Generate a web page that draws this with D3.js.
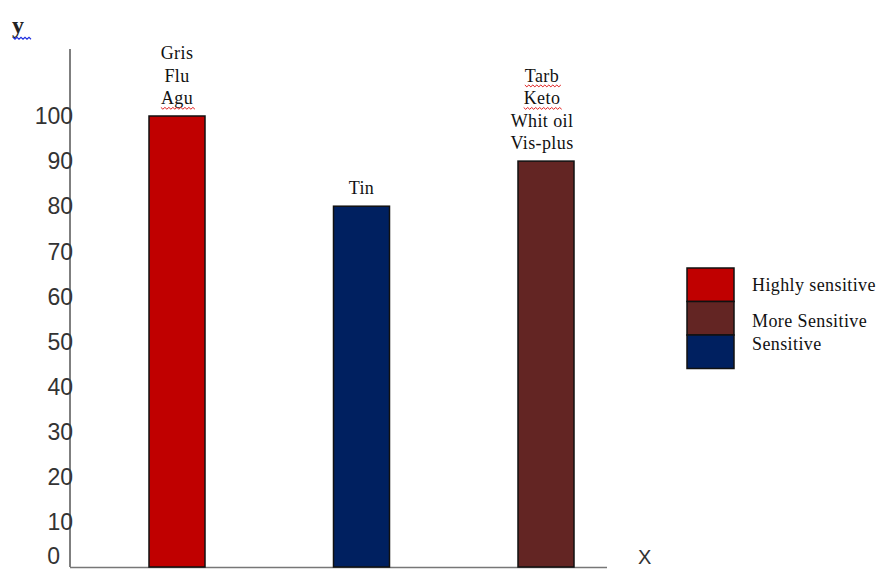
<!DOCTYPE html>
<html>
<head>
<meta charset="utf-8">
<script src="https://cdn.jsdelivr.net/npm/d3@7.9.0/dist/d3.min.js"></script>
<style>
  body { margin: 0; background: #fff; }
  svg { display: block; }
</style>
</head>
<body>
<svg id="chart" width="882" height="569"></svg>
<script>
// data
const categories = ['Highly sensitive', 'Sensitive', 'More Sensitive'];
const values = [100, 80, 90];
const barLabels = [['Gris', 'Flu', 'Agu'], ['Tin'], ['Tarb', 'Keto', 'Whit oil', 'Vis-plus']];
const underlined = ['Agu', 'Tarb', 'Keto']; // spell-check squiggles in the original
const yTicks = [0, 10, 20, 30, 40, 50, 60, 70, 80, 90, 100];
const legendItems = ['Highly sensitive', 'More Sensitive', 'Sensitive'];
const colors = {
  'Highly sensitive': '#c00000',
  'More Sensitive': '#632523',
  'Sensitive': '#002060'
};

const svg = d3.select('#chart');

const axisX = 70, baseY = 567, topY = 49, axisEnd = 607;
const serif = 'Liberation Serif, Times New Roman, serif';
const sans = 'Liberation Sans, Arial, sans-serif';

const y = d3.scaleLinear().domain([0, 100]).range([baseY, 116]);
const x = d3.scalePoint().domain(categories).range([177, 546]);
const barW = 56;

// axes lines
svg.append('line')
  .attr('x1', axisX).attr('x2', axisX)
  .attr('y1', topY).attr('y2', baseY)
  .attr('stroke', '#555').attr('stroke-width', 1.5);
svg.append('line')
  .attr('x1', axisX).attr('x2', axisEnd)
  .attr('y1', baseY + 0.5).attr('y2', baseY + 0.5)
  .attr('stroke', '#777').attr('stroke-width', 1.5);

// y tick labels
svg.selectAll('.ytick')
  .data(yTicks)
  .join('text')
  .attr('class', 'ytick')
  .attr('x', d => d === 0 ? axisX - 10 : axisX + 3)
  .attr('y', d => d === 0 ? y(d) - 11 : y(d))
  .attr('dy', '0.36em')
  .attr('text-anchor', 'end')
  .attr('font-family', sans)
  .attr('font-size', 23)
  .attr('fill', '#333')
  .text(d => d);

// bars
svg.selectAll('.bar')
  .data(categories)
  .join('rect')
  .attr('class', 'bar')
  .attr('x', d => x(d) - barW / 2)
  .attr('y', (d, i) => y(values[i]))
  .attr('width', barW)
  .attr('height', (d, i) => baseY - y(values[i]))
  .attr('fill', d => colors[d])
  .attr('stroke', '#111')
  .attr('stroke-width', 1.5);

// labels above bars
const labelGroups = svg.selectAll('.blabel')
  .data(categories)
  .join('g')
  .attr('class', 'blabel');

labelGroups.each(function(d, i) {
  const lines = barLabels[i];
  const g = d3.select(this);
  const lastBase = y(values[i]) - 12;
  const cx = x(d) + (i === 2 ? -4 : 0);
  lines.forEach((t, j) => {
    const ty = lastBase - (lines.length - 1 - j) * 22.5;
    const txt = g.append('text')
      .attr('x', cx)
      .attr('y', ty)
      .attr('text-anchor', 'middle')
      .attr('font-family', serif)
      .attr('font-size', 18)
      .attr('letter-spacing', 0.4)
      .attr('fill', '#111')
      .text(t);
    if (underlined.includes(t)) {
      const w = txt.node().getComputedTextLength();
      const x0 = cx - w / 2;
      const pts = d3.range(0, Math.ceil(w / 2) + 1).map(k => [x0 + k * 2, ty + 4 + (k % 2 ? 1.2 : -0.6)]);
      g.append('path')
        .attr('d', d3.line()(pts))
        .attr('fill', 'none')
        .attr('stroke', '#e02020')
        .attr('stroke-width', 1);
    }
  });
});

// axis titles
svg.append('text')
  .attr('x', 12).attr('y', 33)
  .attr('font-family', serif)
  .attr('font-weight', 'bold')
  .attr('font-size', 24)
  .attr('fill', '#222')
  .text('y');
{
  const pts = d3.range(0, 10).map(k => [13 + k * 2, 38 + (k % 2 ? 1.2 : -0.6)]);
  svg.append('path')
    .attr('d', d3.line()(pts))
    .attr('fill', 'none')
    .attr('stroke', '#2030e0')
    .attr('stroke-width', 1.2);
}
svg.append('text')
  .attr('x', 638).attr('y', 564)
  .attr('font-family', sans)
  .attr('font-size', 20)
  .attr('fill', '#333')
  .text('X');

// legend
const legX = 687, legY = 268, boxW = 47, boxH = 33.5;
const legendTextY = [285, 321, 344];
const legend = svg.append('g');
legend.selectAll('rect')
  .data(legendItems)
  .join('rect')
  .attr('x', legX)
  .attr('y', (d, i) => legY + i * boxH)
  .attr('width', boxW)
  .attr('height', boxH)
  .attr('fill', d => colors[d])
  .attr('stroke', '#111')
  .attr('stroke-width', 1.5);
legend.selectAll('text')
  .data(legendItems)
  .join('text')
  .attr('x', 752)
  .attr('y', (d, i) => legendTextY[i])
  .attr('dy', '0.35em')
  .attr('font-family', serif)
  .attr('font-size', 18)
  .attr('letter-spacing', 0.4)
  .attr('fill', '#111')
  .text(d => d);
</script>
</body>
</html>
